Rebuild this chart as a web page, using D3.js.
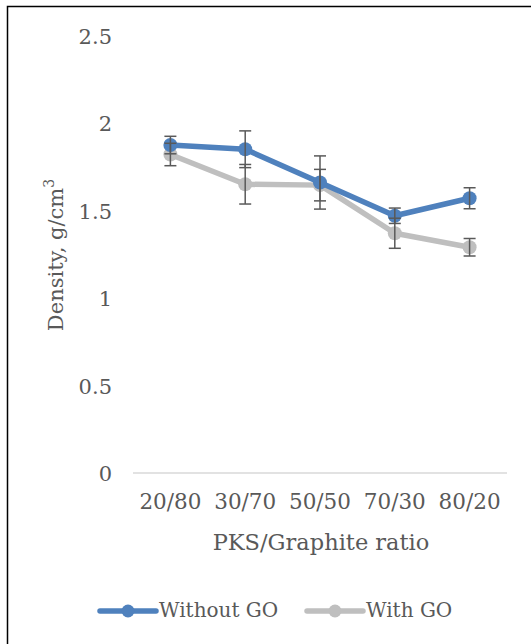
<!DOCTYPE html>
<html>
<head>
<meta charset="utf-8">
<script src="https://cdn.jsdelivr.net/npm/d3@7"></script>
<style>
  html, body { margin: 0; padding: 0; background: #fff; }
  svg { display: block; }
  text { font-family: "DejaVu Serif", "Liberation Serif", serif; fill: #595959; }
</style>
</head>
<body>
<div id="chart"></div>
<script>
// ---- data ----
const categories = ['20/80', '30/70', '50/50', '70/30', '80/20'];
const withoutGO = [1.874, 1.85, 1.66, 1.47, 1.57];
const withoutGOErr = [0.05, 0.105, 0.152, 0.044, 0.06];
const withGO = [1.82, 1.65, 1.645, 1.37, 1.29];
const withGOErr = [0.064, 0.113, 0.09, 0.086, 0.05];
const yTicks = [0, 0.5, 1, 1.5, 2, 2.5];

const W = 531, H = 644;
const plot = { left: 133, right: 507, top: 35.5, bottom: 473 };

const svg = d3.select('#chart').append('svg')
  .attr('width', W).attr('height', H);

// outer frame (only top/left edges inside the view)
svg.append('rect')
  .attr('x', 7.5).attr('y', 6.5)
  .attr('width', 540).attr('height', 660)
  .attr('fill', 'none').attr('stroke', '#000').attr('stroke-width', 1.5);

const x = d3.scaleBand().domain(categories).range([plot.left, plot.right]);
const y = d3.scaleLinear().domain([0, 2.5]).range([plot.bottom, plot.top]);

// baseline
svg.append('line')
  .attr('x1', plot.left).attr('x2', plot.right)
  .attr('y1', y(0)).attr('y2', y(0))
  .attr('stroke', '#d9d9d9').attr('stroke-width', 1.5);

// y tick labels
svg.append('g').selectAll('text').data(yTicks).join('text')
  .attr('x', 112).attr('y', d => y(d) + 8)
  .attr('text-anchor', 'end')
  .attr('font-size', 21)
  .text(d => d);

// x tick labels
svg.append('g').selectAll('text').data(categories).join('text')
  .attr('x', d => x(d) + x.bandwidth() / 2).attr('y', 509)
  .attr('text-anchor', 'middle')
  .attr('font-size', 21.5)
  .text(d => d);

// axis titles
svg.append('text')
  .attr('x', 321).attr('y', 550)
  .attr('text-anchor', 'middle').attr('font-size', 22.5)
  .text('PKS/Graphite ratio');

const yTitle = svg.append('text')
  .attr('transform', `translate(63,${255}) rotate(-90)`)
  .attr('text-anchor', 'middle').attr('font-size', 21);
yTitle.append('tspan').text('Density, g/cm');
yTitle.append('tspan').attr('font-size', 14).attr('dy', -9).text('3');

const series = [
  { name: 'Without GO', values: withoutGO, err: withoutGOErr, color: '#4f81bd' },
  { name: 'With GO', values: withGO, err: withGOErr, color: '#bfbfbf' }
];

const cx = (d, i) => x(categories[i]) + x.bandwidth() / 2;
const line = d3.line().x((d, i) => cx(d, i)).y(d => y(d));

// gray series drawn first, blue on top
series.slice().reverse().forEach(s => {
  svg.append('path').datum(s.values)
    .attr('d', line).attr('fill', 'none')
    .attr('stroke', s.color).attr('stroke-width', 5.5)
    .attr('stroke-linejoin', 'round');
  svg.append('g').selectAll('circle').data(s.values).join('circle')
    .attr('cx', cx).attr('cy', d => y(d)).attr('r', 7)
    .attr('fill', s.color);
});

// error bars
series.forEach(s => {
  const g = svg.append('g').attr('stroke', '#595959').attr('stroke-width', 1.5);
  s.values.forEach((v, i) => {
    const px = cx(v, i), e = s.err[i];
    g.append('line').attr('x1', px).attr('x2', px)
      .attr('y1', y(v + e)).attr('y2', y(v - e));
    [v + e, v - e].forEach(t => {
      g.append('line').attr('x1', px - 6).attr('x2', px + 6)
        .attr('y1', y(t)).attr('y2', y(t));
    });
  });
});

// legend
const legend = [
  { name: 'Without GO', color: '#4f81bd', x0: 100 },
  { name: 'With GO', color: '#bfbfbf', x0: 307 }
];
legend.forEach(l => {
  const g = svg.append('g');
  g.append('line').attr('x1', l.x0).attr('x2', l.x0 + 56)
    .attr('y1', 611).attr('y2', 611)
    .attr('stroke', l.color).attr('stroke-width', 5.5).attr('stroke-linecap', 'round');
  g.append('circle').attr('cx', l.x0 + 28).attr('cy', 611).attr('r', 6.5).attr('fill', l.color);
  g.append('text').attr('x', l.x0 + 59).attr('y', 617).attr('font-size', 20).text(l.name);
});
</script>
</body>
</html>
